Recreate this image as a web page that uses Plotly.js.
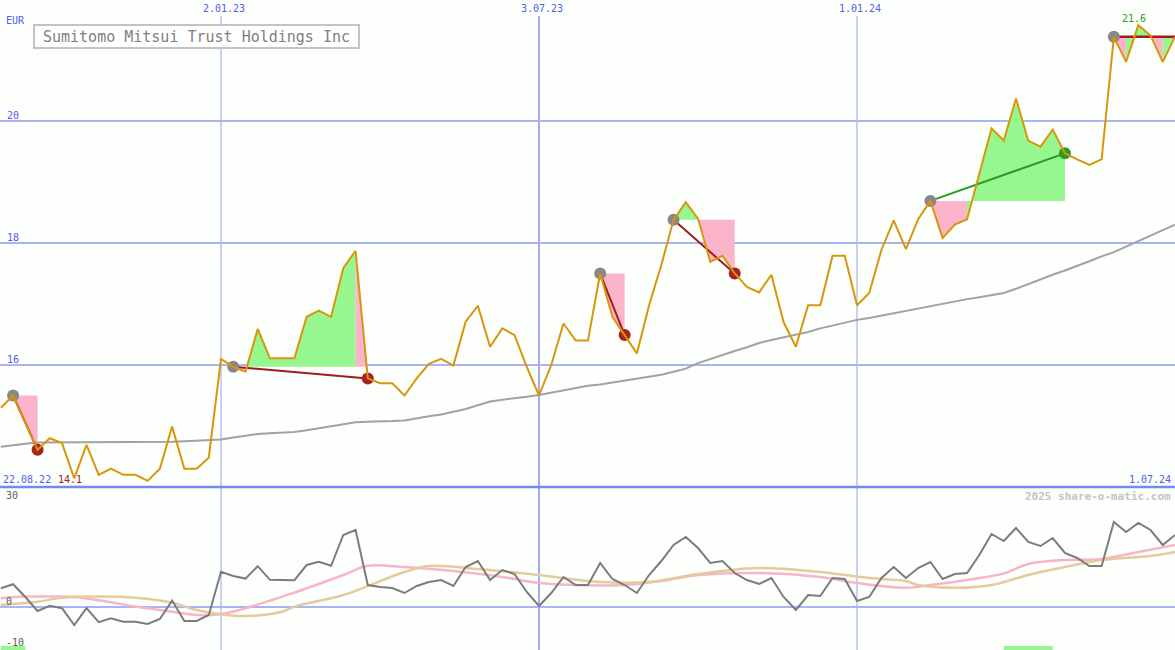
<!DOCTYPE html>
<html><head><meta charset="utf-8">
<script src="https://cdn.plot.ly/plotly-3.0.1.min.js"></script>
<style>html,body{margin:0;padding:0;background:#fcfffc;}#chart{width:1175px;height:650px;}</style>
</head><body><div id="chart"></div>
<script>
// ---- data (weekly closes, EUR) ----
const startDay = '2022-08-29';
const price = [15.30,15.50,15.05,14.61,14.80,14.72,14.14,14.69,14.20,14.30,
14.20,14.20,14.10,14.30,14.99,14.30,14.30,14.48,16.10,15.97,
15.89,16.59,16.11,16.11,16.11,16.79,16.89,16.79,17.59,17.87,
15.78,15.70,15.70,15.50,15.78,16.02,16.10,15.99,16.71,16.97,
16.30,16.60,16.49,15.97,15.50,16.00,16.68,16.40,16.40,17.50,
16.79,16.49,16.19,16.98,17.64,18.38,18.67,18.40,17.69,17.79,
17.50,17.28,17.19,17.48,16.70,16.30,16.98,16.98,17.79,17.79,
16.98,17.18,17.89,18.37,17.90,18.39,18.69,18.08,18.30,18.39,
19.14,19.88,19.68,20.37,19.68,19.58,19.86,19.47,19.37,19.28,
19.37,21.38,20.97,21.57,21.40,20.97,21.38];
const movingAvg = [14.66,14.69,14.71,14.73,14.73,14.73,14.73,14.73,14.73,14.73,
14.74,14.74,14.74,14.74,14.74,14.75,14.76,14.77,14.78,14.81,
14.84,14.87,14.88,14.89,14.90,14.93,14.96,14.99,15.02,15.06,
15.07,15.07,15.08,15.09,15.13,15.16,15.19,15.23,15.28,15.34,
15.40,15.43,15.45,15.48,15.51,15.55,15.58,15.62,15.66,15.68,
15.71,15.74,15.77,15.80,15.84,15.89,15.94,16.03,16.10,16.16,
16.23,16.29,16.36,16.41,16.45,16.49,16.54,16.60,16.65,16.70,
16.74,16.77,16.81,16.85,16.89,16.93,16.97,17.01,17.05,17.08,
17.11,17.14,17.18,17.25,17.33,17.40,17.48,17.55,17.62,17.70,
17.78,17.85,17.94,18.03,18.12,18.21,18.30];
const oscillator = [4.7,5.7,2.5,-1.0,0.3,-0.3,-4.5,-0.3,-3.8,-2.8,
-3.7,-3.7,-4.25,-3.0,1.6,-3.5,-3.5,-2.0,8.8,7.75,
7.1,10.2,6.8,6.75,6.7,10.5,11.3,10.3,18,19.3,
5.5,5.0,4.75,3.5,5.25,6.25,6.75,5.25,10,11.5,
6.75,9.25,8.25,3.75,0.25,3.5,7.5,5.5,5.5,11,
7,5.5,3.5,8,11.5,15.5,17.5,14.75,11,11.5,
8.5,6.75,5.75,7.25,2.5,-0.75,3,2.75,7.25,7,
1.5,2.5,7.25,10,7.25,9.75,11.25,7,8.25,8.5,
13,18.25,16.5,19.75,16.25,15.25,17.25,13.5,12.25,10.25,
10.25,21.25,18.75,21,19.25,15.5,18];
const pinkIdx = [0,2,4,6,8,11,14,16,18,20,22,24,28,30,33,37,41,44,47,51,54,57,62,67,70,74,76,79,82,84,87,90,93,96];
const pinkVal = [2.2,2.6,2.6,2.5,1.7,0.1,-1.2,-2.0,-1.75,-0.3,1.6,3.6,8,10.3,10,9,7.5,6,5.5,5.5,6.5,8,8.5,7.5,6,4.8,5.5,6.75,8.4,10.75,11.75,12,13.75,15.5];
const tanIdx = [0,3,5,8,11,14,16,18,20,23,24,28,33,35,39,44,49,53,57,62,67,71,74,75,78,81,84,87,90,94,96];
const tanVal = [0.5,1.3,2.3,2.6,2.3,1.1,-0.75,-1.8,-2.25,-1.2,0.1,3,8.75,10.25,9.5,8,6.25,6.25,8.25,9.75,8.75,7.25,6.5,5.5,4.8,5.5,8,10,11.75,12.75,13.75];
// trade signals: start/end week index
const signals = [{s:1,e:3},{s:19,e:30},{s:49,e:51},{s:55,e:60},{s:76,e:87},{s:91,e:null}];
const signalBars = [[0,2],[82,86]];
const tickDates = ['2023-01-02','2023-07-03','2024-01-01'];
const tickLabels = ['2.01.23','3.07.23','1.01.24'];
const priceTicks = [16,18,20];
const oscTicks = [30,0,-10];
const edgeLabels = ['22.08.22','1.07.24'];
const title = 'Sumitomo Mitsui Trust Holdings Inc';

// ---- build ----
const W=1175,H=650;
const PX=x=>x/W, PY=y=>1-y/H;
const day=864e5, t0=Date.parse(startDay+'T00:00:00Z');
const dates = price.map((_,i)=>new Date(t0+i*7*day).toISOString().slice(0,10));
const xEnd = dates[dates.length-1];
const xRange = ['2022-08-28 12:00', xEnd];
const F='DejaVu Sans Mono, monospace';
const GREEN='#96f78e', PINK='#fbb4ca';
const traces=[];
// fills
signals.forEach(sg=>{
  const lv=price[sg.s]; const e = sg.e===null? price.length-1 : sg.e;
  let runs=[]; 
  for(let i=sg.s;i<e;i++){
    const c = price[i+1]>=lv-1e-9 ? GREEN : PINK;
    if(runs.length && runs[runs.length-1].c===c) runs[runs.length-1].b=i+1;
    else runs.push({a:i,b:i+1,c:c});
  }
  runs.forEach(r=>{
    const xs=[dates[r.a]], ys=[lv];
    for(let k=r.a;k<=r.b;k++){xs.push(dates[k]);ys.push(price[k]);}
    xs.push(dates[r.b]); ys.push(lv); xs.push(dates[r.a]); ys.push(lv);
    traces.push({x:xs,y:ys,mode:'lines',fill:'toself',fillcolor:r.c,line:{width:0},hoverinfo:'skip',xaxis:'x',yaxis:'y'});
  });
});
// moving average
traces.push({x:dates,y:movingAvg,mode:'lines',line:{color:'#a2a2a2',width:2},xaxis:'x',yaxis:'y',hoverinfo:'skip'});
// connection lines
signals.forEach(sg=>{
  if(sg.e===null){
    traces.push({x:[dates[sg.s],xEnd],y:[price[sg.s],price[sg.s]],mode:'lines',line:{color:'#a01c1c',width:2.5},xaxis:'x',yaxis:'y',hoverinfo:'skip'});
  } else {
    const up=price[sg.e]>price[sg.s];
    traces.push({x:[dates[sg.s],dates[sg.e]],y:[price[sg.s],price[sg.e]],mode:'lines',line:{color:up?'#2a9a2a':'#a01c1c',width:2},xaxis:'x',yaxis:'y',hoverinfo:'skip'});
  }
});
// dots
signals.forEach(sg=>{
  traces.push({x:[dates[sg.s]],y:[price[sg.s]],mode:'markers',marker:{color:'#888888',size:12},xaxis:'x',yaxis:'y',hoverinfo:'skip'});
  if(sg.e!==null){
    const up=price[sg.e]>price[sg.s];
    traces.push({x:[dates[sg.e]],y:[price[sg.e]],mode:'markers',marker:{color:up?'#2c9c2c':'#a82222',size:12},xaxis:'x',yaxis:'y',hoverinfo:'skip'});
  }
});
// price line
traces.push({x:dates,y:price,mode:'lines',line:{color:'#d8960c',width:2},xaxis:'x',yaxis:'y',hoverinfo:'skip'});
// lower panel
traces.push({x:pinkIdx.map(i=>dates[i]),y:pinkVal,mode:'lines',line:{color:'#f8b4c8',width:2.5,shape:'spline',smoothing:1},xaxis:'x',yaxis:'y2',hoverinfo:'skip'});
traces.push({x:tanIdx.map(i=>dates[i]),y:tanVal,mode:'lines',line:{color:'#e4cb9c',width:2.5,shape:'spline',smoothing:1},xaxis:'x',yaxis:'y2',hoverinfo:'skip'});
traces.push({x:dates,y:oscillator,mode:'lines',line:{color:'#7c7c7c',width:2},xaxis:'x',yaxis:'y2',hoverinfo:'skip'});

const split = PY(487);
const shapes=[];
tickDates.forEach((d,k)=>{
  shapes.push({type:'line',xref:'x',yref:'paper',x0:d,x1:d,y0:0,y1:PY(16),line:{color:k===1?'#a0acf4':'#a8b2ec',width:k===1?2:1.2},layer:'below'});
});
shapes.push({type:'line',xref:'paper',yref:'paper',x0:0,x1:1,y0:split,y1:split,line:{color:'#7888f0',width:2.5}});
signalBars.forEach(b=>{
  shapes.push({type:'rect',xref:'x',yref:'paper',x0:dates[b[0]],x1:dates[b[1]],y0:0,y1:4/H,fillcolor:GREEN,line:{width:0}});
});

const blue='#5060ec';
const ann=[];
tickDates.forEach((d,k)=>ann.push({xref:'x',yref:'paper',x:d,y:PY(9),text:tickLabels[k],showarrow:false,xanchor:'center',yanchor:'middle',xshift:3,font:{family:F,size:10,color:blue}}));
ann.push({xref:'paper',yref:'paper',x:PX(4),y:PY(20),text:'EUR',showarrow:false,xanchor:'left',yanchor:'middle',font:{family:F,size:10,color:blue}});
priceTicks.forEach(v=>ann.push({xref:'paper',yref:'y',x:PX(5),y:v,text:String(v),showarrow:false,xanchor:'left',yanchor:'bottom',yshift:-2,font:{family:F,size:10,color:blue}}));
oscTicks.forEach((v,k)=>{
  const yy=[495,601,642][k];
  ann.push({xref:'paper',yref:'paper',x:PX(4),y:PY(yy),text:String(v),showarrow:false,xanchor:'left',yanchor:'middle',font:{family:F,size:10,color:'#606060'}});
});
const minV=Math.min(...price), maxV=Math.max(...price), maxI=price.indexOf(maxV);
ann.push({xref:'paper',yref:'paper',x:PX(1),y:PY(479),text:edgeLabels[0],showarrow:false,xanchor:'left',yanchor:'middle',font:{family:F,size:10,color:blue}});
ann.push({xref:'paper',yref:'paper',x:PX(56),y:PY(479),text:minV.toFixed(1),showarrow:false,xanchor:'left',yanchor:'middle',font:{family:F,size:10,color:'#a01c1c'}});
ann.push({xref:'paper',yref:'paper',x:PX(1173),y:PY(479),text:edgeLabels[1],showarrow:false,xanchor:'right',yanchor:'middle',font:{family:F,size:10,color:blue}});
ann.push({xref:'x',yref:'y',x:dates[maxI],y:maxV,text:maxV.toFixed(1),showarrow:false,xanchor:'center',yanchor:'bottom',xshift:-4,yshift:-1,font:{family:F,size:10,color:'#2a9a2a'}});
ann.push({xref:'paper',yref:'paper',x:PX(1173),y:PY(496),text:'<b>2025 share-o-matic.com</b>',showarrow:false,xanchor:'right',yanchor:'middle',font:{family:F,size:11,color:'#c4c4c4'}});
ann.push({xref:'paper',yref:'paper',x:PX(33),y:PY(36.5),text:title,showarrow:false,xanchor:'left',yanchor:'middle',width:321,height:19,borderpad:1,bordercolor:'#c4c4c4',borderwidth:2,bgcolor:'#ffffff',font:{family:F,size:15,color:'#808080'}});

const layout={
  width:W,height:H,margin:{l:0,r:0,t:0,b:0},
  paper_bgcolor:'#fcfffc',plot_bgcolor:'#fcfffc',showlegend:false,
  xaxis:{type:'date',range:xRange,showticklabels:false,showgrid:false,zeroline:false,showline:false,ticks:'',fixedrange:true},
  yaxis:{domain:[split,1],range:[14.0,16+365/61],tickvals:priceTicks,showticklabels:false,gridcolor:'#a8b4f4',gridwidth:2,zeroline:false,showline:false,ticks:''},
  yaxis2:{domain:[0,split],range:[-(650-607)/4,30],tickvals:[0],showticklabels:false,gridcolor:'#a8b4f4',gridwidth:2,zeroline:false,showline:false,ticks:''},
  shapes:shapes,annotations:ann
};
Plotly.newPlot('chart',traces,layout,{displayModeBar:false,staticPlot:true});
</script></body></html>
